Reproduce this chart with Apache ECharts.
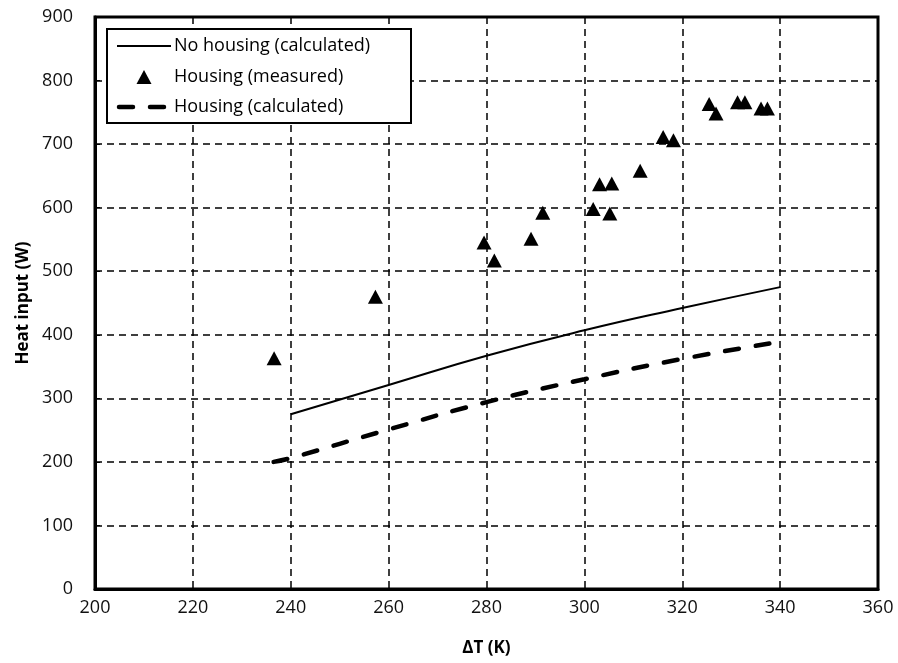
<!DOCTYPE html>
<html>
<head>
<meta charset="utf-8">
<title>Heat input vs ΔT</title>
<script src="https://cdn.jsdelivr.net/npm/echarts@6/dist/echarts.min.js"></script>
<style>
    html, body { margin: 0; padding: 0; background: #fff; }
    #main { width: 898px; height: 663px; }
</style>
</head>
<body>
<div id="main"></div>
<script>
// ------------------------------------------------------------------------
// Data
// ------------------------------------------------------------------------
var seriesNames = ['No housing (calculated)', 'Housing (measured)', 'Housing (calculated)'];

// calculated, no housing: [ΔT, W]
var noHousingCalc = [[240, 275], [260, 321], [280, 367], [300, 407], [320, 442], [340, 475]];

// measured with housing
var housingMeasured = [
    [236.6, 363], [257.3, 460], [279.5, 545], [281.6, 517], [289.1, 551],
    [291.5, 592], [301.8, 598], [303.1, 637], [305.2, 591], [305.6, 638],
    [311.4, 658], [316.1, 711], [318.2, 706], [325.5, 763], [326.9, 748],
    [331.3, 766], [332.8, 766], [336.1, 756], [337.4, 756]
];

// calculated, with housing
var housingCalc = [[236.5, 200], [240, 206], [260, 251], [280, 294], [300, 330], [320, 362], [340, 389]];

var FONT = '"Open Sans", "Noto Sans", sans-serif';

document.addEventListener('DOMContentLoaded', function() {
    var chart = echarts.init(document.getElementById('main'));

    var dashGrid = { color: '#000', width: 1.5, type: [7, 5] };
    var dashSeries = { color: '#000', width: 4.5, type: [14, 17], cap: 'round' };

    // legend box drawn by hand (Excel style: line sample / triangle / dashes)
    var lgX = 106, lgY = 28, rowY = [17, 48, 78];
    var legendGraphic = {
        type: 'group',
        left: lgX, top: lgY,
        z: 100,
        children: [
            { type: 'rect', z: 100, shape: { x: 0, y: 0, width: 304, height: 94 },
              style: { fill: '#fff', stroke: '#000', lineWidth: 2 } },
            { type: 'line', z: 101, shape: { x1: 10, y1: rowY[0], x2: 64, y2: rowY[0] },
              style: { stroke: '#000', lineWidth: 2 } },
            { type: 'polygon', z: 101, shape: { points: [[37, rowY[1] - 7], [44.5, rowY[1] + 7], [29.5, rowY[1] + 7]] },
              style: { fill: '#000' } },
            { type: 'line', z: 101, shape: { x1: 12, y1: rowY[2], x2: 64, y2: rowY[2] },
              style: { stroke: '#000', lineWidth: 4.5, lineDash: [14, 17], lineCap: 'round' } }
        ]
    };
    seriesNames.forEach(function(name, i) {
        legendGraphic.children.push({
            type: 'text',
            z: 101,
            x: 67, y: rowY[i],
            style: { text: name, fontSize: 18, fontFamily: FONT, fill: '#000', verticalAlign: 'middle' }
        });
    });

    var option = {
        animation: false,
        backgroundColor: '#fff',
        grid: {
            left: 95, right: 20, top: 17, bottom: 74,
            show: true, borderColor: '#000', borderWidth: 3
        },
        graphic: { elements: [legendGraphic] },
        xAxis: {
            type: 'value',
            min: 200, max: 360, interval: 20,
            name: 'ΔT (K)',
            nameLocation: 'middle',
            nameGap: 51,
            nameTextStyle: { fontSize: 17, fontWeight: 'bold', color: '#000', fontFamily: FONT },
            axisLine: { show: true, lineStyle: { color: '#000', width: 3 } },
            axisTick: { show: false },
            axisLabel: { fontSize: 18, color: '#111', margin: 10, fontFamily: FONT },
            splitLine: { show: true, lineStyle: dashGrid }
        },
        yAxis: {
            type: 'value',
            min: 0, max: 900, interval: 100,
            name: 'Heat input (W)',
            nameLocation: 'middle',
            nameRotate: 90,
            nameGap: 62,
            nameTextStyle: { fontSize: 17, fontWeight: 'bold', color: '#000', fontFamily: FONT },
            axisLine: { show: true, lineStyle: { color: '#000', width: 3 } },
            axisTick: { show: true, inside: true, length: 5, lineStyle: { color: '#000', width: 1 } },
            axisLabel: { fontSize: 18, color: '#111', margin: 22, fontFamily: FONT },
            splitLine: { show: true, lineStyle: dashGrid }
        },
        series: [
            {
                name: seriesNames[0],
                type: 'line',
                data: noHousingCalc,
                smooth: true,
                symbol: 'none',
                lineStyle: { color: '#000', width: 2 },
                z: 3
            },
            {
                name: seriesNames[1],
                type: 'scatter',
                data: housingMeasured,
                symbol: 'triangle',
                symbolSize: [15, 14],
                itemStyle: { color: '#000', opacity: 1 },
                z: 4
            },
            {
                name: seriesNames[2],
                type: 'line',
                data: housingCalc,
                smooth: true,
                symbol: 'none',
                lineStyle: dashSeries,
                z: 3
            }
        ]
    };
    chart.setOption(option);

    window.addEventListener('resize', function() {
        chart.resize();
    });
});
</script>
</body>
</html>
